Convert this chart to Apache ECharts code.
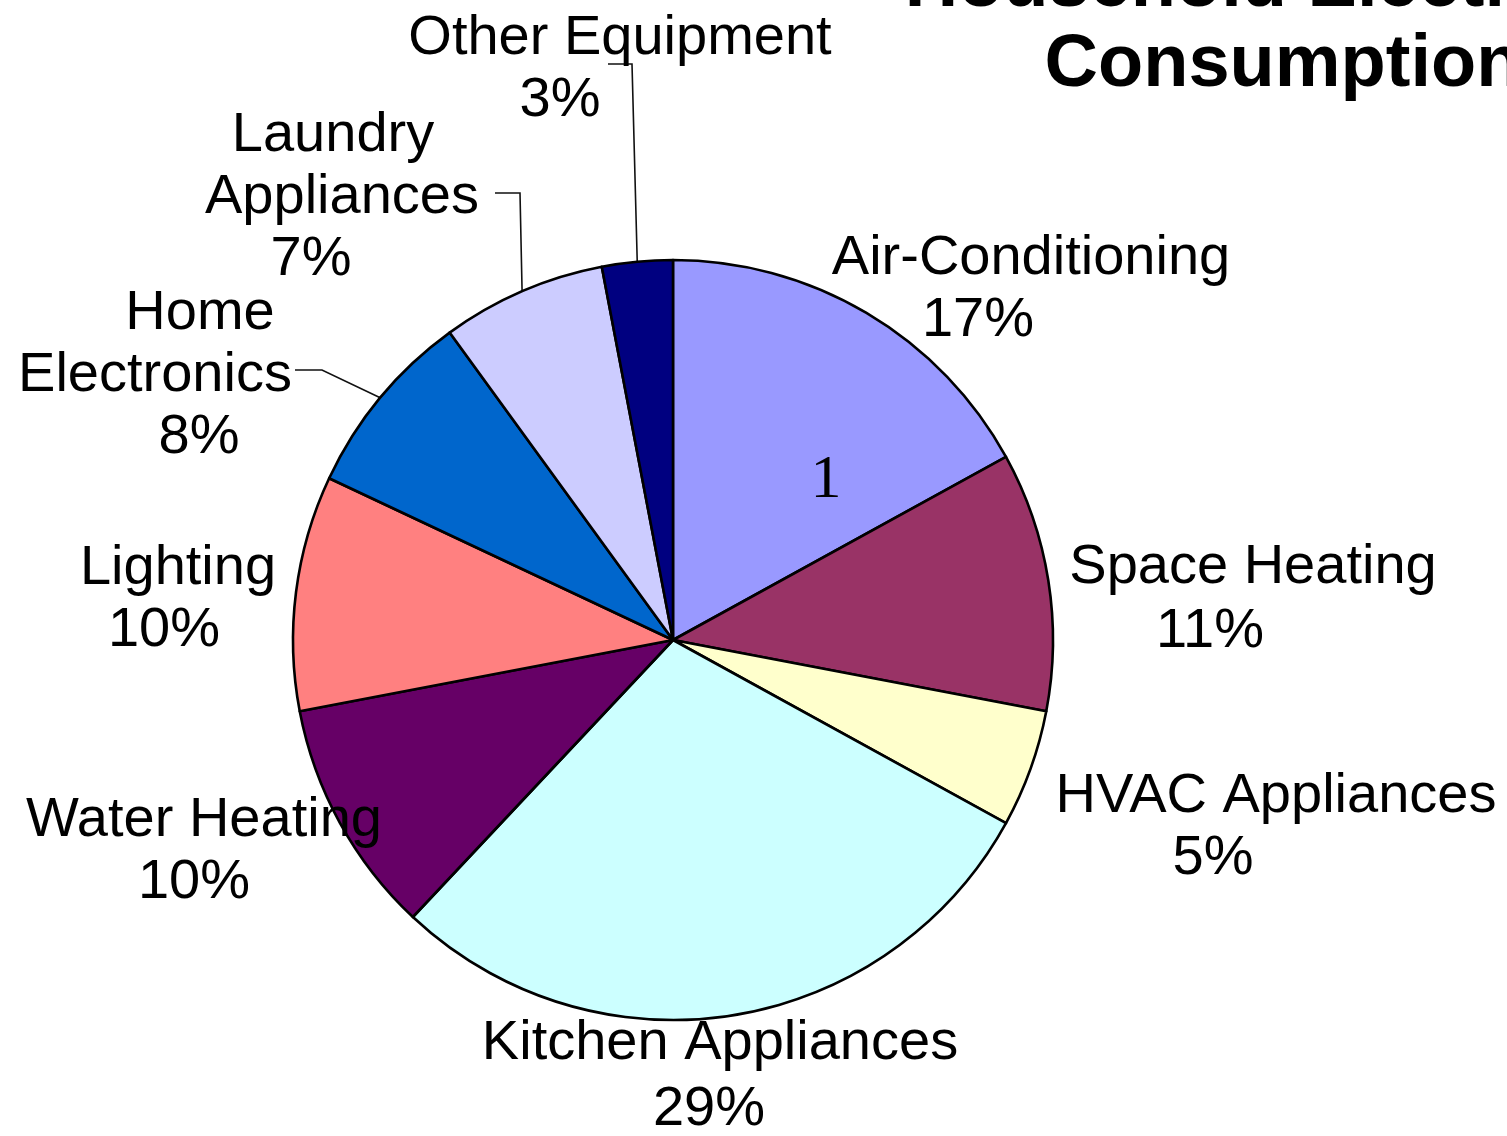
<!DOCTYPE html>
<html>
<head>
<meta charset="utf-8">
<title>Household Electricity Consumption</title>
<script src="https://cdn.jsdelivr.net/npm/echarts@6/dist/echarts.min.js"></script>
<style>
  html, body { margin: 0; padding: 0; background: #ffffff; }
  #chart { width: 1507px; height: 1136px; }
</style>
</head>
<body>
<div id="chart"></div>
<script>
// Share of household electricity use by end use (percent)
const categories = [
  'Air-Conditioning', 'Space Heating', 'HVAC Appliances', 'Kitchen Appliances',
  'Water Heating', 'Lighting', 'Home Electronics', 'Laundry Appliances', 'Other Equipment'
];
const shares = [17, 11, 5, 29, 10, 10, 8, 7, 3];
const sliceColors = [
  '#9999FF', '#993366', '#FFFFCC', '#CCFFFF',
  '#660066', '#FF8080', '#0066CC', '#CCCCFF', '#000080'
];
const titleLines = ['Household Electricity', 'Consumption'];
const sliceNote = '1';

// How long category names wrap inside their labels
const nameBreaks = {
  'Home Electronics': ['Home', 'Electronics'],
  'Laundry Appliances': ['Laundry', 'Appliances']
};

// Label placement: centre x, first-line baseline, per-line horizontal nudge,
// optional line spacing, and optional leader tail (elbow, end) relative to the anchor
const labelPlaces = {
  'Air-Conditioning':   { x: 1031, base: 276,  nudge: [0, -53] },
  'Space Heating':      { x: 1253, base: 585,  nudge: [0, -43], gap: 64 },
  'HVAC Appliances':    { x: 1276, base: 814,  nudge: [0, -63] },
  'Kitchen Appliances': { x: 720,  base: 1061, nudge: [0, -11], gap: 66 },
  'Water Heating':      { x: 204,  base: 838,  nudge: [0, -10] },
  'Lighting':           { x: 178,  base: 586,  nudge: [0, -14] },
  'Home Electronics':   { x: 200,  base: 331,  nudge: [0, -45, -1], tail: [[122, 39], [95, 39]] },
  'Laundry Appliances': { x: 333,  base: 153,  nudge: [0, 9, -22],  tail: [[187, 40], [162, 40]] },
  'Other Equipment':    { x: 620,  base: 56,   nudge: [0, -60],     tail: [[12, 8], [-12, 8]] }
};

const LABEL_FONT = '"Liberation Sans", Arial, Helvetica, sans-serif';
const LABEL_SIZE = 56;
const LABEL_LINE = 62;

const PIE_CENTER = [673, 640];
const PIE_RADIUS = 380;

function lineGap(name) {
  return labelPlaces[name].gap || LABEL_LINE;
}

function buildItem(name, i) {
  const place = labelPlaces[name];
  const gap = lineGap(name);
  const lines = (nameBreaks[name] || [name]).concat([shares[i] + '%']);
  const rich = {};
  const parts = lines.map(function (text, k) {
    const shift = place.nudge[k] || 0;
    rich['l' + k] = {
      fontFamily: LABEL_FONT,
      fontSize: LABEL_SIZE,
      lineHeight: gap,
      color: '#000000',
      align: 'center',
      padding: [0, shift < 0 ? -2 * shift : 0, 0, shift > 0 ? 2 * shift : 0]
    };
    return '{l' + k + '|' + text + '}';
  });
  return {
    name: name,
    value: shares[i],
    itemStyle: { color: sliceColors[i] },
    label: { formatter: parts.join('\n'), rich: rich, align: 'center' },
    labelLine: { show: !!place.tail }
  };
}

// point on the rim at the middle of slice i (used when no default line point exists)
function rimPoint(i) {
  const total = shares.reduce(function (a, b) { return a + b; }, 0);
  let before = 0;
  for (let k = 0; k < i; k++) before += shares[k];
  const frac = (before + shares[i] / 2) / total;
  const ang = Math.PI / 2 - frac * 2 * Math.PI;
  return [PIE_CENTER[0] + PIE_RADIUS * Math.cos(ang), PIE_CENTER[1] - PIE_RADIUS * Math.sin(ang)];
}

const chart = echarts.init(document.getElementById('chart'), null, { renderer: 'canvas' });

chart.setOption({
  backgroundColor: '#ffffff',
  animation: false,
  graphic: [
    {
      type: 'text', x: 1283, y: -14, z: 10,
      style: {
        text: titleLines[0], fill: '#000000', align: 'center', verticalAlign: 'middle',
        fontFamily: LABEL_FONT, fontSize: 74, fontWeight: 'bold'
      }
    },
    {
      type: 'text', x: 1283, y: 66, z: 10,
      style: {
        text: titleLines[1], fill: '#000000', align: 'center', verticalAlign: 'middle',
        fontFamily: LABEL_FONT, fontSize: 74, fontWeight: 'bold'
      }
    },
    {
      type: 'text', x: 826, y: 481, z: 10,
      style: {
        text: sliceNote, fill: '#000000', align: 'center', verticalAlign: 'middle',
        fontFamily: '"Liberation Serif", "Times New Roman", serif', fontSize: 62
      }
    }
  ],
  series: [{
    type: 'pie',
    center: PIE_CENTER,
    radius: PIE_RADIUS,
    startAngle: 90,
    clockwise: true,
    avoidLabelOverlap: false,
    itemStyle: { borderColor: '#000000', borderWidth: 2.6 },
    label: {
      show: true,
      position: 'outside',
      color: '#000000',
      fontFamily: LABEL_FONT,
      fontSize: LABEL_SIZE,
      lineHeight: LABEL_LINE
    },
    labelLine: { show: false, smooth: false, lineStyle: { color: '#111111', width: 1.6 } },
    emphasis: { disabled: true },
    data: categories.map(buildItem),
    labelLayout: function (params) {
      const name = categories[params.dataIndex];
      const place = labelPlaces[name];
      // distance from the top of the label block to its first baseline
      const firstBaseline = lineGap(name) / 2 + LABEL_SIZE * 0.31;
      const out = {
        x: place.x,
        y: place.base - firstBaseline,
        align: 'center',
        verticalAlign: 'top'
      };
      if (place.tail) {
        const rim = (params.labelLinePoints && params.labelLinePoints[0]) || rimPoint(params.dataIndex);
        out.labelLinePoints = [
          rim,
          [place.x + place.tail[0][0], place.base + place.tail[0][1]],
          [place.x + place.tail[1][0], place.base + place.tail[1][1]]
        ];
      }
      return out;
    }
  }]
});
</script>
</body>
</html>
